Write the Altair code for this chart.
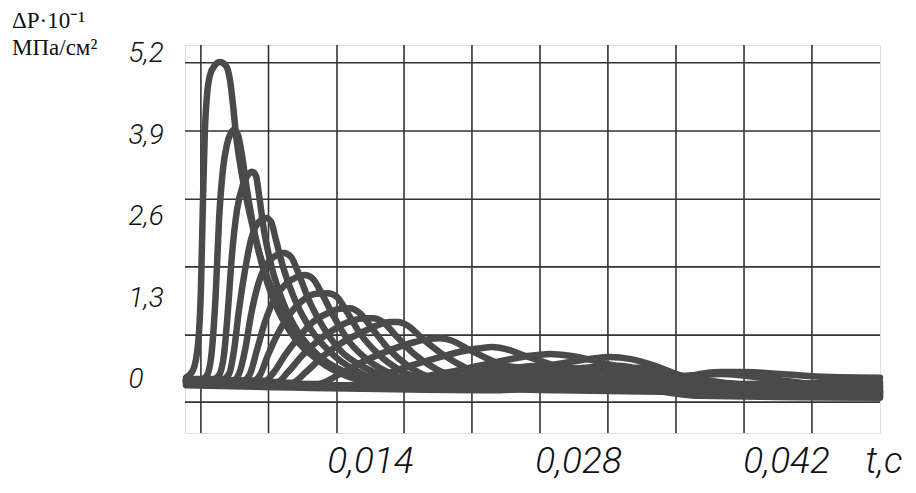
import altair as alt
import pandas as pd

# ---- data (time in ms, pressure drop in 10^-1 MPa/cm^2) ----
c1_ms = [1.62, 2.09, 2.42, 2.62, 2.76, 2.89, 3.03, 3.23, 3.57, 3.90, 4.31, 4.58, 4.78, 4.98, 5.38, 5.92, 6.59, 7.40, 8.48, 9.96, 11.98, 14.67, 18.71, 26.78, 34.86, 41.59, 48.32]
c1_v = [0.03, 0.15, 0.55, 1.43, 2.87, 3.99, 4.54, 4.86, 5.02, 5.07, 5.01, 4.78, 4.39, 3.91, 3.27, 2.63, 1.99, 1.43, 0.92, 0.47, 0.15, -0.04, -0.12, -0.17, -0.20, -0.23, -0.26]

c2_ms = [1.62, 2.56, 3.03, 3.36, 3.63, 3.84, 4.10, 4.37, 4.64, 4.85, 5.11, 5.38, 5.72, 6.26, 6.93, 7.81, 8.95, 10.50, 12.65, 16.02, 20.73, 25.44, 29.48, 33.51, 40.24, 48.32]
c2_v = [-0.01, -0.01, 0.07, 0.47, 1.43, 2.55, 3.35, 3.75, 3.94, 3.99, 3.91, 3.59, 3.03, 2.31, 1.67, 1.11, 0.66, 0.31, 0.04, -0.10, 0.07, 0.22, 0.12, -0.07, -0.15, -0.20]

c3_ms = [1.62, 3.36, 3.84, 4.17, 4.44, 4.71, 5.05, 5.45, 5.79, 6.06, 6.33, 6.53, 6.86, 7.40, 8.14, 9.15, 10.50, 12.31, 14.67, 19.38, 22.75, 26.78, 32.17, 36.20, 48.32]
c3_v = [-0.02, -0.01, 0.07, 0.39, 1.11, 1.99, 2.71, 3.11, 3.27, 3.32, 3.25, 2.95, 2.39, 1.78, 1.24, 0.76, 0.39, 0.12, -0.05, 0.12, 0.22, 0.07, -0.13, -0.26, -0.29]

c4_ms = [1.62, 4.10, 4.51, 4.85, 5.18, 5.59, 5.99, 6.46, 7.00, 7.34, 7.67, 8.21, 8.95, 9.96, 11.31, 12.99, 15.34, 21.40, 26.78, 30.82, 33.51, 37.55, 48.32]
c4_v = [0.01, 0.01, 0.09, 0.47, 1.11, 1.75, 2.23, 2.50, 2.58, 2.52, 2.23, 1.75, 1.27, 0.82, 0.44, 0.15, -0.02, 0.03, 0.15, 0.22, 0.06, -0.17, -0.20]

c5_ms = [1.62, 4.78, 5.18, 5.59, 5.99, 6.46, 7.00, 7.60, 8.21, 8.68, 9.15, 9.83, 10.77, 11.98, 13.66, 16.02, 20.73, 24.76, 29.48, 32.84, 36.20, 48.32]
c5_v = [-0.01, -0.01, 0.09, 0.47, 1.03, 1.51, 1.83, 1.97, 2.02, 1.96, 1.72, 1.30, 0.87, 0.47, 0.19, -0.01, -0.07, 0.03, 0.15, 0.12, -0.04, -0.26]

c6_ms = [1.62, 5.45, 5.92, 6.39, 6.93, 7.60, 8.41, 9.08, 9.62, 10.16, 10.70, 11.51, 12.52, 13.86, 15.68, 18.37, 24.09, 28.13, 32.17, 35.53, 40.24, 48.32]
c6_v = [-0.01, -0.02, 0.09, 0.47, 0.92, 1.30, 1.54, 1.64, 1.67, 1.61, 1.40, 1.03, 0.63, 0.31, 0.07, -0.07, -0.01, 0.09, 0.19, -0.01, -0.15, -0.17]

c7_ms = [1.62, 6.12, 6.59, 7.13, 7.81, 8.61, 9.49, 10.36, 11.17, 11.78, 12.45, 13.32, 14.54, 16.02, 18.03, 21.40, 26.78, 33.51, 37.55, 41.59, 48.32]
c7_v = [-0.02, -0.02, 0.07, 0.39, 0.74, 1.05, 1.27, 1.37, 1.38, 1.32, 1.08, 0.74, 0.41, 0.15, -0.02, -0.12, -0.07, 0.03, 0.09, -0.01, -0.23]

c8_ms = [1.62, 6.93, 7.54, 8.28, 9.15, 10.16, 11.17, 11.98, 12.65, 13.32, 14.13, 15.21, 16.55, 18.37, 21.40, 25.44, 29.48, 34.86, 48.32]
c8_v = [-0.01, -0.02, 0.12, 0.39, 0.66, 0.92, 1.06, 1.13, 1.14, 1.06, 0.82, 0.50, 0.22, 0.01, -0.10, 0.06, -0.01, -0.10, -0.13]

c9_ms = [1.62, 7.74, 8.48, 9.42, 10.50, 11.64, 12.79, 13.59, 14.20, 14.87, 15.75, 16.96, 18.57, 20.73, 24.09, 32.17, 40.24, 48.32]
c9_v = [-0.02, -0.04, 0.12, 0.38, 0.62, 0.81, 0.94, 0.98, 0.98, 0.92, 0.70, 0.41, 0.15, -0.02, -0.12, -0.17, -0.18, -0.20]

c10_ms = [1.62, 8.75, 9.69, 10.77, 11.98, 13.32, 14.54, 15.34, 15.88, 16.55, 17.50, 18.84, 20.59, 22.75, 26.78, 34.86, 42.93, 48.32]
c10_v = [-0.04, -0.05, 0.12, 0.36, 0.57, 0.74, 0.87, 0.92, 0.92, 0.86, 0.66, 0.41, 0.17, 0.01, -0.07, -0.10, -0.10, -0.10]

c11_ms = [1.62, 10.50, 11.98, 13.66, 15.34, 17.03, 18.03, 18.71, 19.52, 20.73, 22.41, 24.43, 26.78, 30.82, 37.55, 48.32]
c11_v = [-0.04, -0.07, 0.09, 0.30, 0.47, 0.60, 0.65, 0.66, 0.62, 0.47, 0.28, 0.11, -0.02, -0.12, -0.15, -0.17]

c12_ms = [1.62, 12.65, 14.67, 16.69, 18.71, 20.39, 21.40, 22.21, 23.08, 24.43, 26.45, 28.80, 31.49, 36.20, 42.93, 48.32]
c12_v = [-0.05, -0.09, 0.06, 0.22, 0.36, 0.46, 0.50, 0.52, 0.49, 0.38, 0.22, 0.06, -0.05, -0.09, -0.09, -0.07]

c13_ms = [1.62, 15.34, 18.03, 20.73, 23.08, 24.76, 26.11, 27.46, 29.48, 31.83, 34.19, 37.55, 42.93, 48.32]
c13_v = [-0.07, -0.10, 0.04, 0.19, 0.31, 0.38, 0.41, 0.38, 0.28, 0.14, 0.01, -0.10, -0.13, -0.13]

c14_ms = [1.62, 18.03, 21.40, 24.76, 27.46, 29.14, 30.15, 31.49, 33.18, 34.86, 36.20, 38.90, 48.32]
c14_v = [-0.07, -0.13, 0.01, 0.17, 0.28, 0.34, 0.36, 0.33, 0.22, 0.07, 0.01, -0.07, -0.04]

c15_ms = [1.62, 22.75, 26.78, 30.82, 33.51, 35.20, 36.20, 37.55, 39.23, 41.59, 44.95, 48.32]
c15_v = [-0.09, -0.17, -0.07, 0.03, 0.06, 0.03, 0.09, 0.12, 0.12, 0.09, 0.04, 0.03]

x_ticks = [0.014, 0.028, 0.042]
y_ticks = [0, 1.3, 2.6, 3.9, 5.2]
grid_t = [0.00262, 0.00717, 0.01178, 0.01629, 0.02086, 0.02544, 0.03001, 0.03459, 0.03917, 0.04374]
grid_v = [5.06, 3.97, 2.88, 1.80, 0.71, -0.36]
x_domain = [0.00155, 0.04832]
y_domain = [-0.853, 5.343]
title_lines = ["ΔP·10⁻¹", "МПа/см²"]
x_title = "t,c"

curves = [(c1_ms, c1_v), (c2_ms, c2_v), (c3_ms, c3_v), (c4_ms, c4_v), (c5_ms, c5_v),
          (c6_ms, c6_v), (c7_ms, c7_v), (c8_ms, c8_v), (c9_ms, c9_v), (c10_ms, c10_v),
          (c11_ms, c11_v), (c12_ms, c12_v), (c13_ms, c13_v), (c14_ms, c14_v), (c15_ms, c15_v)]

rows = []
for i, (ts, vs) in enumerate(curves, start=1):
    for k, (t, v) in enumerate(zip(ts, vs)):
        rows.append({"curve": i, "k": k, "t": t / 1000.0, "v": v})
df = pd.DataFrame(rows)

NUM_FONT = "Roboto, Liberation Sans, sans-serif"

xscale = alt.Scale(domain=x_domain, nice=False, zero=False)
yscale = alt.Scale(domain=y_domain, nice=False, zero=False)

x_axis = alt.Axis(
    values=x_ticks,
    labelExpr="replace(format(datum.value, '.3f'), '.', ',')",
    labelFont=NUM_FONT, labelFontSize=37, labelFontStyle="italic", labelFontWeight=300,
    labelColor="#111",
    labelPadding=39, labelBaseline="alphabetic", labelOverlap=False,
    ticks=False, tickSize=0, domain=False, grid=False,
    title=x_title, titleFont=NUM_FONT, titleFontSize=37, titleFontStyle="italic",
    titleFontWeight=300, titleColor="#111", titleX=680, titleY=39,
    titleAlign="left", titleBaseline="alphabetic",
)
y_axis = alt.Axis(
    values=y_ticks,
    labelExpr="datum.value == 0 ? '0' : replace(format(datum.value, '.1f'), '.', ',')",
    labelFont=NUM_FONT, labelFontSize=28, labelFontStyle="italic", labelFontWeight=300,
    labelColor="#111",
    labelAlign="left", labelBaseline="middle", labelPadding=57, labelOverlap=False,
    ticks=False, tickSize=0, domain=False, grid=False, title=None,
)

vgrid = alt.Chart(pd.DataFrame({"gt": grid_t})).mark_rule(color="#333", strokeWidth=1.6).encode(
    x=alt.X("gt:Q", scale=xscale, axis=x_axis)
)
hgrid = alt.Chart(pd.DataFrame({"gv": grid_v})).mark_rule(color="#333", strokeWidth=1.6).encode(
    y=alt.Y("gv:Q", scale=yscale, axis=y_axis)
)

lines = alt.Chart(df).mark_line(
    color="#4a4a4a", strokeWidth=6.5, interpolate="monotone", strokeCap="round", strokeJoin="round"
).encode(
    x=alt.X("t:Q", scale=xscale, axis=x_axis),
    y=alt.Y("v:Q", scale=yscale, axis=y_axis),
    detail="curve:N",
    order="k:Q",
)

title_df = pd.DataFrame({"line": title_lines, "row": [0, 1]})
t1 = alt.Chart(title_df).transform_filter("datum.row == 0").mark_text(
    font="Liberation Serif", fontSize=23, align="left", baseline="alphabetic", color="#111"
).encode(text="line:N", x=alt.value(-173), y=alt.value(-17))
t2 = alt.Chart(title_df).transform_filter("datum.row == 1").mark_text(
    font="Liberation Serif", fontSize=23, align="left", baseline="alphabetic", color="#111"
).encode(text="line:N", x=alt.value(-173), y=alt.value(10))

chart = alt.layer(vgrid, hgrid, lines, t1, t2).properties(
    width=695, height=388,
    padding={"left": 177, "top": 37, "right": 28, "bottom": 48},
    autosize=alt.AutoSizeParams(type="none"),
).configure_view(stroke="#888", strokeWidth=3).configure(background="white")

chart.save("out.html", embed_options={"renderer": "svg", "actions": False})
